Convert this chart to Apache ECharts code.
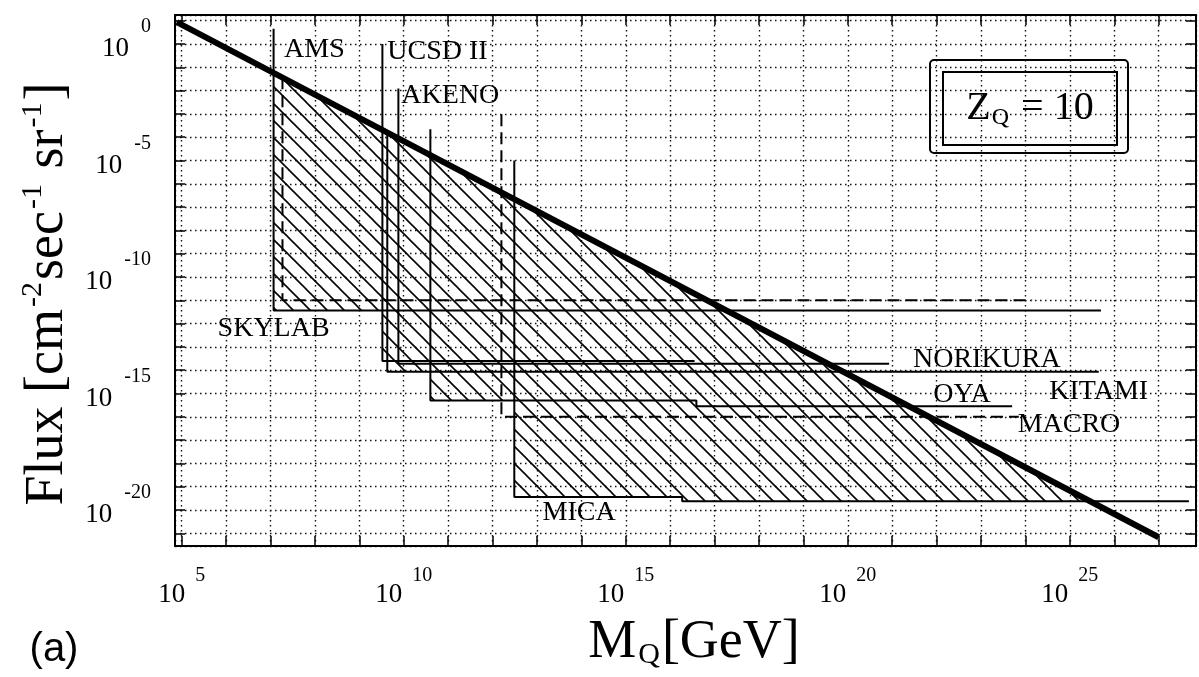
<!DOCTYPE html>
<html>
<head>
<meta charset="utf-8">
<title>Flux limits, Z_Q = 10</title>
<script src="https://cdn.jsdelivr.net/npm/echarts@6/dist/echarts.min.js"></script>
<style>
  html, body { margin: 0; padding: 0; background: #fff; }
  #main { width: 1199px; height: 677px; }
</style>
</head>
<body>
<div id="main"></div>
<script>
// every value below is log10: mass in GeV, flux in cm^-2 sec^-1 sr^-1

// thick line (flux ~ 1/M)
var dmMass = [4.89, 27.0]
var dmFlux = [0.94, -21.17]

// experiment limits: vertical edge, then the flux limit
var skylabMass = [7.07, 7.07, 25.7]
var skylabFlux = [0.66, -11.44, -11.44]
var amsMass = [7.27, 7.27, 24.15]
var amsFlux = [-1.43, -11.0, -11.0]
var ucsdMass = [9.52, 9.52, 16.55]
var ucsdFlux = [0.0, -13.6, -13.6]
var akenoMass = [9.88, 9.88, 20.93]
var akenoFlux = [-1.91, -13.72, -13.72]
var kitamiMass = [9.63, 9.63, 25.65]
var kitamiFlux = [-3.8, -14.07, -14.07]
var oyaMass = [10.6, 10.6, 16.59, 16.59, 23.7]
var oyaFlux = [-3.66, -15.3, -15.3, -15.55, -15.55]
var macroMass = [12.2, 12.2, 23.85]
var macroFlux = [-3.02, -16.0, -16.0]
var micaMass = [12.49, 12.49, 16.27, 16.27, 27.68]
var micaFlux = [-5.0, -19.44, -19.44, -19.62, -19.62]

// excluded region (hatched), closed along the thick line
var hatchMass = [7.07, 7.07, 9.52, 9.52, 9.63, 9.63, 10.6, 10.6, 12.49, 12.49, 16.27, 16.27, 25.45]
var hatchFlux = [-1.24, -11.44, -11.44, -13.6, -13.6, -14.07, -14.07, -15.3, -15.3, -19.44, -19.44, -19.62, -19.62]

// experiment names
var labelText = ['AMS', 'UCSD II', 'AKENO', 'SKYLAB', 'NORIKURA', 'KITAMI', 'OYA', 'MACRO', 'MICA']
var labelMass = [7.99, 10.76, 11.05, 7.07, 23.13, 25.65, 22.57, 24.98, 13.95]
var labelFlux = [-0.23, -0.31, -2.21, -12.21, -13.54, -14.91, -15.06, -16.35, -20.11]

// labelled decades
var massTicks = [5, 10, 15, 20, 25]
var fluxTicks = [0, -5, -10, -15, -20]

var serif = 'Liberation Serif'

function pairs(xs, ys) {
  return xs.map(function (x, i) { return [x, ys[i]] })
}

function limitLine(name, xs, ys, dashed) {
  return {
    name: name,
    type: 'line',
    data: pairs(xs, ys),
    symbol: 'none',
    silent: true,
    z: 3,
    lineStyle: { color: '#000', width: 2, type: dashed ? [12, 6] : 'solid' }
  }
}

function powerLabel(ticks) {
  return function (v) {
    var n = Math.round(v)
    if (Math.abs(v - n) > 1e-6 || ticks.indexOf(n) < 0) return ''
    return '{b|10}{s|' + n + '}'
  }
}

function hatchTile() {
  var c = document.createElement('canvas')
  c.width = 17
  c.height = 17
  var g = c.getContext('2d')
  g.strokeStyle = '#000'
  g.lineWidth = 1.6
  ;[-17, 0, 17].forEach(function (d) {
    g.beginPath()
    g.moveTo(d - 2, -2)
    g.lineTo(d + 19, 19)
    g.stroke()
  })
  return c
}

var frame = { onZero: false, lineStyle: { color: '#000', width: 2 } }
var inTicks = { inside: true, length: 10, lineStyle: { color: '#000', width: 1.5 } }
var dots = { show: true, lineStyle: { color: '#111', width: 1.4, type: [1.5, 3.5] } }

var myChart = echarts.init(document.getElementById('main'))

var option = {
  animation: false,
  backgroundColor: '#fff',
  grid: { left: 175, right: 2, top: 15, bottom: 131 },
  xAxis: [
    {
      type: 'value', min: 4.85, max: 27.84, splitNumber: 23, position: 'bottom',
      axisLine: frame, axisTick: inTicks, splitLine: dots,
      axisLabel: {
        interval: 0, margin: 20, color: '#000',
        formatter: powerLabel(massTicks),
        rich: {
          b: { fontFamily: serif, fontSize: 27, color: '#000' },
          s: { fontFamily: serif, fontSize: 20, color: '#000', padding: [0, 0, 38, 10] }
        }
      }
    },
    {
      type: 'value', min: 4.85, max: 27.84, splitNumber: 23, position: 'top',
      axisLine: frame, axisTick: inTicks, splitLine: { show: false }, axisLabel: { show: false }
    }
  ],
  yAxis: [
    {
      type: 'value', min: -21.545, max: 1.245, splitNumber: 23, position: 'left',
      axisLine: frame, axisTick: inTicks, splitLine: dots,
      axisLabel: {
        interval: 0, margin: 24, color: '#000',
        formatter: powerLabel(fluxTicks),
        rich: {
          b: { fontFamily: serif, fontSize: 27, color: '#000', padding: [10, 0, 0, 0] },
          s: { fontFamily: serif, fontSize: 20, color: '#000', padding: [0, 0, 34, 12] }
        }
      }
    },
    {
      type: 'value', min: -21.545, max: 1.245, splitNumber: 23, position: 'right',
      axisLine: frame, axisTick: inTicks, splitLine: { show: false }, axisLabel: { show: false }
    }
  ],
  series: [
    {
      name: 'excluded',
      type: 'custom',
      silent: true,
      z: 2,
      data: [[hatchMass[0], hatchFlux[0]]],
      renderItem: function (params, api) {
        return {
          type: 'polygon',
          shape: { points: pairs(hatchMass, hatchFlux).map(function (p) { return api.coord(p) }) },
          style: { fill: { image: hatchTile(), repeat: 'repeat' }, stroke: null }
        }
      }
    },
    limitLine('SKYLAB', skylabMass, skylabFlux, false),
    limitLine('AMS', amsMass, amsFlux, true),
    limitLine('UCSD II', ucsdMass, ucsdFlux, false),
    limitLine('AKENO', akenoMass, akenoFlux, false),
    limitLine('KITAMI', kitamiMass, kitamiFlux, false),
    limitLine('OYA', oyaMass, oyaFlux, false),
    limitLine('MACRO', macroMass, macroFlux, true),
    limitLine('MICA', micaMass, micaFlux, false),
    {
      name: 'flux',
      type: 'line',
      data: pairs(dmMass, dmFlux),
      symbol: 'none',
      silent: true,
      z: 4,
      lineStyle: { color: '#000', width: 6 }
    },
    {
      name: 'names',
      type: 'scatter',
      symbolSize: 0,
      silent: true,
      z: 5,
      itemStyle: { opacity: 1, color: '#000' },
      data: labelText.map(function (t, i) { return { name: t, value: [labelMass[i], labelFlux[i]] } }),
      label: {
        show: true, position: 'inside', formatter: '{b}',
        fontFamily: serif, fontSize: 28, color: '#000', opacity: 1,
        textBorderWidth: 0
      }
    }
  ],
  graphic: [
    {
      type: 'text', x: 48, y: 294, rotation: Math.PI / 2, z: 10,
      style: {
        text: 'Flux [cm{s|-2}sec{s|-1} sr{s|-1}]',
        fontFamily: serif, fontSize: 54, fill: '#000', align: 'center', verticalAlign: 'middle',
        rich: { s: { fontFamily: serif, fontSize: 30, fill: '#000', padding: [0, 2, 30, 2] } }
      }
    },
    {
      type: 'text', x: 694, y: 643, z: 10,
      style: {
        text: 'M{q|Q}[GeV]',
        fontFamily: serif, fontSize: 54, fill: '#000', align: 'center', verticalAlign: 'middle',
        rich: { q: { fontFamily: serif, fontSize: 30, fill: '#000', padding: [24, 2, 0, 2] } }
      }
    },
    {
      type: 'text', x: 54, y: 650, z: 10,
      style: { text: '(a)', fontFamily: 'Liberation Sans', fontSize: 40, fill: '#000', align: 'center', verticalAlign: 'middle' }
    },
    {
      type: 'group', z: 10,
      children: [
        { type: 'rect', shape: { x: 930, y: 60, width: 198, height: 93, r: 4 }, style: { fill: '#fff', stroke: '#000', lineWidth: 2 } },
        { type: 'rect', shape: { x: 943, y: 72, width: 174, height: 73 }, style: { fill: '#fff', stroke: '#000', lineWidth: 2 } },
        {
          type: 'text', x: 1030, y: 108,
          style: {
            text: 'Z{q|Q} = 10',
            fontFamily: serif, fontSize: 40, fill: '#000', align: 'center', verticalAlign: 'middle',
            rich: { q: { fontFamily: serif, fontSize: 24, fill: '#000', padding: [20, 2, 0, 1] } }
          }
        }
      ]
    }
  ]
}

myChart.setOption(option)
</script>
</body>
</html>
